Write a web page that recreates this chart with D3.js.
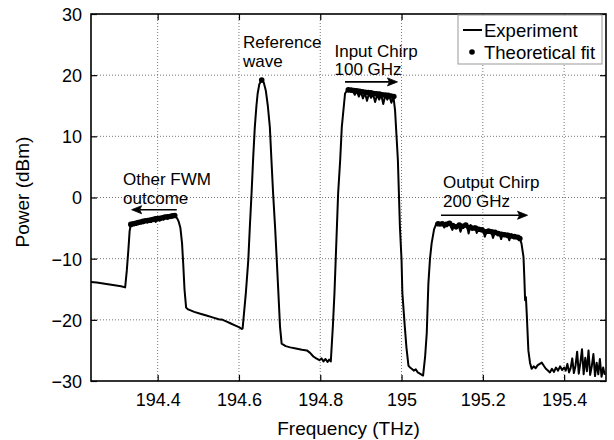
<!DOCTYPE html>
<html><head><meta charset="utf-8">
<script src="https://cdn.jsdelivr.net/npm/d3@7"></script>
<style>
body{margin:0;background:#fff;}
text{font-family:"Liberation Sans",Arial,Helvetica,sans-serif;fill:#000;}
</style></head>
<body><svg id="chart" width="614" height="440"></svg>
<script>
// ---------- data ----------
const expFreq = [194.236,194.250,194.270,194.290,194.310,194.320,194.324,194.328,194.331,194.334,
194.340,194.345,194.350,194.355,194.360,194.365,194.370,194.375,194.380,194.385,194.390,194.395,
194.400,194.405,194.410,194.415,194.420,194.425,194.430,194.435,194.443,194.448,194.452,194.456,
194.460,194.463,194.466,194.470,194.475,194.490,194.505,194.520,194.535,194.550,194.560,194.570,
194.580,194.590,194.600,194.607,194.609,194.613,194.617,194.623,194.627,194.631,194.635,194.639,
194.643,194.646,194.650,194.656,194.661,194.666,194.671,194.676,194.680,194.684,194.689,194.693,
194.697,194.701,194.705,194.715,194.726,194.740,194.755,194.767,194.775,194.783,194.790,194.798,
194.803,194.808,194.813,194.818,194.822,194.826,194.831,194.835,194.838,194.844,194.849,194.853,
194.861,194.869,194.875,194.880,194.885,194.890,194.895,194.900,194.905,194.910,194.915,194.920,
194.925,194.930,194.935,194.940,194.945,194.950,194.955,194.960,194.965,194.970,194.975,194.980,
194.984,194.991,194.996,195.000,195.002,195.008,195.012,195.017,195.021,195.025,195.030,195.035,
195.040,195.045,195.050,195.053,195.058,195.062,195.066,195.070,195.074,195.080,195.086,
195.090,195.095,195.100,195.105,195.110,195.115,195.120,195.125,195.130,195.135,195.140,195.145,
195.150,195.155,195.160,195.165,195.170,195.175,195.180,195.185,195.190,195.195,195.200,195.205,
195.210,195.215,195.220,195.225,195.230,195.235,195.240,195.245,195.250,195.255,195.260,195.265,
195.270,195.275,195.280,195.285,195.291,195.295,195.300,195.302,195.304,195.306,195.308,195.312,
195.316,195.320,195.325,195.330,195.335,195.340,195.345,195.350,195.355,195.360,195.365,195.370,
195.375,195.380,195.385,195.390,195.395,195.400,195.404,195.408,195.412,195.416,195.420,195.424,
195.428,195.432,195.436,195.440,195.444,195.448,195.452,195.456,195.460,195.464,195.468,195.472,
195.476,195.480,195.484,195.488,195.492,195.496,195.500];
const expPower = [-13.8,-13.9,-14.1,-14.3,-14.5,-14.7,-12.0,-8.5,-5.5,-4.4,
-4.2,-4.5,-4.0,-4.3,-3.9,-4.2,-3.8,-4.1,-3.7,-3.9,-3.6,-4.0,
-3.4,-3.8,-3.4,-3.6,-3.2,-3.5,-3.1,-3.3,-3.0,-3.4,-4.0,-5.0,
-7.5,-11.0,-15.0,-18.0,-18.3,-18.7,-19.0,-19.3,-19.6,-19.9,-20.0,-20.3,
-20.6,-20.9,-21.2,-21.5,-21.4,-18.5,-15.6,-10.2,-4.5,0.7,6.5,11.5,
15.0,17.0,18.5,19.2,18.8,17.5,15.0,11.5,6.0,0.7,-5.0,-10.2,
-15.6,-21.1,-23.9,-24.3,-24.5,-24.7,-24.9,-25.0,-25.4,-26.0,-26.3,-26.6,
-26.3,-26.8,-26.4,-26.9,-26.5,-26.8,-21.1,-15.6,-10.2,0.7,6.1,11.5,
17.0,17.8,17.6,17.5,16.8,17.4,16.5,17.3,16.2,17.1,15.8,17.0,
16.3,16.9,15.6,16.8,16.0,16.8,15.3,16.7,16.0,16.6,15.5,16.5,
14.3,6.1,-4.8,-10.2,-15.6,-21.1,-24.5,-27.5,-27.8,-28.0,-28.3,-28.1,
-28.6,-28.8,-29.0,-29.1,-26.0,-22.2,-14.1,-10.0,-7.5,-5.2,-4.2,
-4.3,-4.6,-4.2,-4.9,-4.4,-4.0,-4.6,-5.3,-4.5,-5.0,-4.4,-5.6,
-4.6,-4.8,-4.3,-5.9,-4.5,-5.2,-4.7,-5.8,-5.0,-5.4,-5.1,-6.4,
-5.3,-5.8,-5.4,-6.6,-5.6,-5.9,-5.7,-6.8,-5.8,-6.1,-5.9,-7.0,
-6.0,-6.6,-6.2,-6.5,-6.7,-7.5,-9.7,-13.0,-16.8,-16.3,-19.0,-25.0,
-27.0,-28.0,-27.6,-27.9,-27.4,-27.2,-27.0,-27.5,-28.0,-28.3,-28.6,-28.0,
-28.5,-27.8,-28.3,-27.6,-28.2,-27.8,-28.3,-27.2,-28.6,-27.9,-26.3,-28.7,
-27.5,-25.2,-28.8,-27.0,-24.8,-28.9,-26.2,-28.4,-25.0,-29.0,-27.6,-25.6,
-29.2,-27.0,-28.9,-26.4,-29.3,-27.8,-29.0];

const fitFreq = [194.334,194.340,194.346,194.352,194.358,194.364,194.370,194.376,194.382,194.388,
194.394,194.400,194.406,194.412,194.418,194.424,194.430,194.436,194.442,
194.656,
194.869,194.876,194.883,194.890,194.897,194.904,194.911,194.918,194.925,194.932,194.939,194.946,
194.953,194.960,194.967,194.974,194.981,
195.090,195.100,195.110,195.118,195.126,195.134,195.142,195.150,195.158,195.166,195.174,195.182,
195.190,195.198,195.206,195.214,195.222,195.230,195.238,195.246,195.254,195.262,195.270,195.278,
195.286,195.291];
const fitPower = [-4.4,-4.3,-4.2,-4.1,-4.0,-3.9,-3.8,-3.75,-3.7,-3.6,
-3.5,-3.45,-3.4,-3.3,-3.2,-3.15,-3.1,-3.0,-2.95,
19.2,
17.6,17.55,17.5,17.45,17.35,17.3,17.2,17.15,17.1,17.0,16.95,16.9,
16.8,16.75,16.7,16.6,16.5,
-4.3,-4.3,-4.4,-4.2,-4.6,-4.8,-4.5,-4.7,-4.5,-4.9,-5.0,-5.0,
-5.2,-5.3,-5.6,-5.5,-5.6,-5.7,-5.9,-6.0,-6.1,-6.2,-6.3,-6.4,
-6.5,-6.7];

const xTicks = [194.4,194.6,194.8,195.0,195.2,195.4];
const yTicks = [-30,-20,-10,0,10,20,30];
const xLabel = "Frequency (THz)";
const yLabel = "Power (dBm)";
const legendLabels = ["Experiment","Theoretical fit"];

// annotations: [lines of text, text anchor freq, first baseline power]
const annotations = [
  {lines:["Reference","wave"], f:194.610, p:24.4},
  {lines:["Input Chirp","100 GHz"], f:194.835, p:23.05},
  {lines:["Output Chirp","200 GHz"], f:195.102, p:1.5},
  {lines:["Other FWM","outcome"], f:194.315, p:2.0}
];
// arrows: from -> to (arrow head at "to")
const arrows = [
  {f0:194.861, f1:194.990, p:18.9},
  {f0:195.097, f1:195.310, p:-2.9},
  {f0:194.447, f1:194.336, p:-2.0}
];

// ---------- layout ----------
const svg = d3.select("#chart");
const L=91, R=606, T=14, B=381;
const x = d3.scaleLinear().domain([194.236,195.503]).range([L,R]);
const y = d3.scaleLinear().domain([-30,30]).range([B,T]);

// grid
const grid = svg.append("g");
grid.selectAll("line.gx").data(xTicks).enter().append("line")
  .attr("x1",d=>x(d)).attr("x2",d=>x(d)).attr("y1",T).attr("y2",B)
  .attr("stroke","#777").attr("stroke-width",1).attr("stroke-dasharray","1,2");
grid.selectAll("line.gy").data(yTicks.slice(1,-1)).enter().append("line")
  .attr("x1",L).attr("x2",R).attr("y1",d=>y(d)).attr("y2",d=>y(d))
  .attr("stroke","#777").attr("stroke-width",1).attr("stroke-dasharray","1,2");

// clip
svg.append("clipPath").attr("id","clip").append("rect")
  .attr("x",L).attr("y",T).attr("width",R-L).attr("height",B-T);

// experiment line
const expData = expFreq.map((f,i)=>[f,expPower[i]]);
svg.append("path").datum(expData)
  .attr("clip-path","url(#clip)")
  .attr("fill","none").attr("stroke","#000").attr("stroke-width",2)
  .attr("stroke-linejoin","round")
  .attr("d", d3.line().x(d=>x(d[0])).y(d=>y(d[1])));

// fit points
svg.append("g").selectAll("circle").data(fitFreq.map((f,i)=>[f,fitPower[i]])).enter()
  .append("circle").attr("cx",d=>x(d[0])).attr("cy",d=>y(d[1])).attr("r",2.8).attr("fill","#000");

// axes
const fmt = d=>{ const s = (+d.toFixed(1)).toString(); return s.replace("-","\u2212"); };
const ax = svg.append("g").attr("transform",`translate(0,${B})`)
  .call(d3.axisBottom(x).tickValues(xTicks).tickSize(-6).tickPadding(12).tickFormat(fmt));
const axT = svg.append("g").attr("transform",`translate(0,${T})`)
  .call(d3.axisTop(x).tickValues(xTicks).tickSize(-6).tickFormat(""));
const ay = svg.append("g").attr("transform",`translate(${L},0)`)
  .call(d3.axisLeft(y).tickValues(yTicks).tickSize(-6).tickPadding(9).tickFormat(fmt));
const ayR = svg.append("g").attr("transform",`translate(${R},0)`)
  .call(d3.axisRight(y).tickValues(yTicks).tickSize(-6).tickFormat(""));
[ax,axT,ay,ayR].forEach(g=>{
  g.select(".domain").remove();
  g.selectAll(".tick line").attr("stroke","#000").attr("stroke-width",1.2);
  g.selectAll(".tick text").attr("font-size",18).attr("font-family","Liberation Sans, Arial, sans-serif").attr("fill","#000");
});
ay.selectAll(".tick text").attr("dy","0.36em");
ax.selectAll(".tick text").attr("dy","0.72em");

// box
svg.append("rect").attr("x",L).attr("y",T).attr("width",R-L).attr("height",B-T)
  .attr("fill","none").attr("stroke","#000").attr("stroke-width",1.6);

// axis labels
svg.append("text").attr("x",(L+R)/2).attr("y",435).attr("text-anchor","middle")
  .attr("font-size",19).text(xLabel);
svg.append("text").attr("transform","translate(29,192) rotate(-90)").attr("text-anchor","middle")
  .attr("font-size",19).text(yLabel);

// annotations
annotations.forEach(a=>{
  const t = svg.append("text").attr("font-size",17);
  a.lines.forEach((ln,i)=>{
    t.append("tspan").attr("x",x(a.f)).attr("y",y(a.p)+i*18.5).text(ln);
  });
});
arrows.forEach(a=>{
  const x0=x(a.f0), x1=x(a.f1), yy=y(a.p);
  const dir = x1>x0?1:-1;
  svg.append("line").attr("x1",x0).attr("x2",x1-dir*8).attr("y1",yy).attr("y2",yy)
    .attr("stroke","#000").attr("stroke-width",1.6);
  svg.append("path").attr("d",`M${x1},${yy} L${x1-dir*10},${yy-4} L${x1-dir*8},${yy} L${x1-dir*10},${yy+4} Z`)
    .attr("fill","#000").attr("stroke","#000").attr("stroke-width",0.8);
});

// legend
const lg = svg.append("g");
lg.append("rect").attr("x",458).attr("y",15).attr("width",144).attr("height",49)
  .attr("fill","#fff").attr("stroke","#999").attr("stroke-width",1);
lg.append("line").attr("x1",463).attr("x2",482).attr("y1",30).attr("y2",30)
  .attr("stroke","#000").attr("stroke-width",2);
lg.append("circle").attr("cx",472).attr("cy",52).attr("r",2.8).attr("fill","#000");
lg.append("text").attr("x",484).attr("y",37).attr("font-size",18.5).text(legendLabels[0]);
lg.append("text").attr("x",484).attr("y",58.5).attr("font-size",18.5).text(legendLabels[1]);
</script></body></html>
